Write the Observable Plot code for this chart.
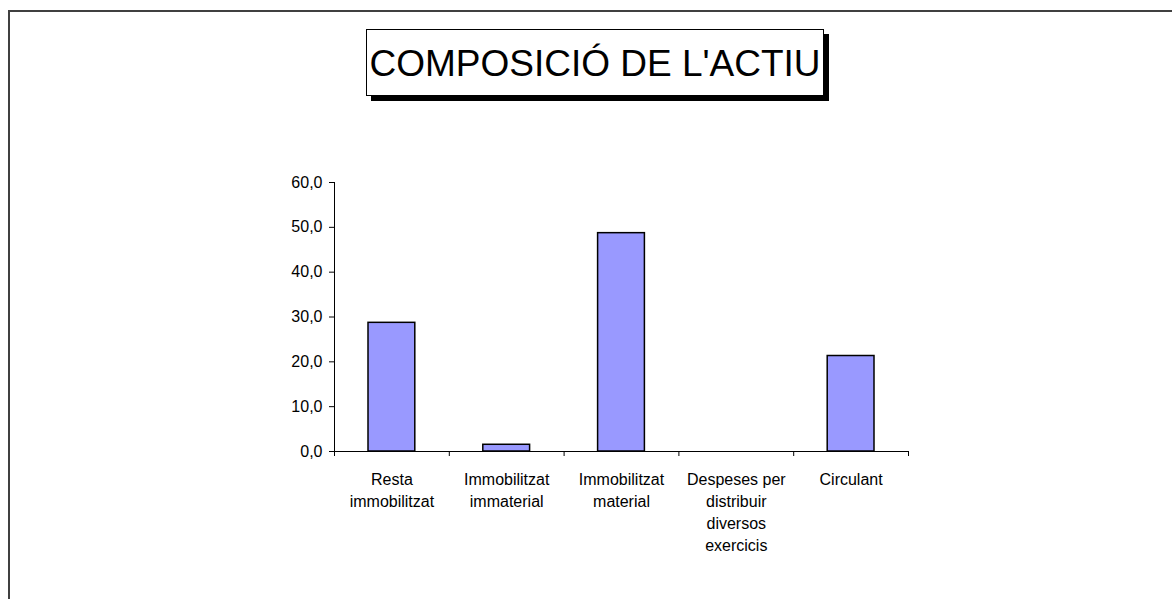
<!DOCTYPE html>
<html>
<head>
<meta charset="utf-8">
<script src="https://cdn.jsdelivr.net/npm/d3@7"></script>
<script src="https://cdn.jsdelivr.net/npm/@observablehq/plot@0.6"></script>
<style>
  html, body { margin: 0; padding: 0; background: #fff; }
  #wrap { position: relative; width: 1172px; height: 599px; overflow: hidden; font-family: "Liberation Sans", Arial, sans-serif; }
  #border { position: absolute; left: 8px; top: 10px; width: 1200px; height: 700px; border-top: 2px solid #404040; border-left: 2px solid #404040; }
  #title { position: absolute; left: 366px; top: 29px; width: 456px; height: 65px; border: 1.5px solid #000; background: #fff;
           box-shadow: 5px 5px 0 #000; font-size: 37px; line-height: 67px; text-align: center; color: #000; white-space: nowrap; z-index: 2; }
  #chart { position: absolute; left: 0; top: 0; }
</style>
</head>
<body>
<div id="wrap">
  <div id="border"></div>
  <div id="title">COMPOSICIÓ DE L'ACTIU</div>
  <div id="chart"></div>
</div>
<script>
const categories = ["Resta immobilitzat", "Immobilitzat immaterial", "Immobilitzat material", "Despeses per distribuir diversos exercicis", "Circulant"];
const tickLabels = ["Resta\nimmobilitzat", "Immobilitzat\nimmaterial", "Immobilitzat\nmaterial", "Despeses per\ndistribuir\ndiversos\nexercicis", "Circulant"];
const values = [28.7, 1.5, 48.7, 0.0, 21.3];
const yTicks = [0, 10, 20, 30, 40, 50, 60];

const n = categories.length;
const data = categories.map((c, i) => ({category: c, index: i, value: values[i]}));

const chart = Plot.plot({
  width: 1172,
  height: 599,
  marginLeft: 334,
  marginRight: 264,
  marginTop: 182,
  marginBottom: 148,
  x: {type: "linear", domain: [0, n]},
  y: {domain: [0, 60]},
  style: {fontFamily: "'Liberation Sans', Arial, sans-serif", fontSize: "16px", color: "#000", background: "transparent", overflow: "visible"},
  marks: [
    Plot.rectY(data.filter(d => d.value > 0), {x1: d => d.index, x2: d => d.index + 1, y: "value", insetLeft: 34, insetRight: 34, fill: "#9999ff", stroke: "#000", strokeWidth: 1.5}),
    Plot.ruleY([0], {stroke: "#000", strokeWidth: 1}),
    Plot.ruleX([0], {stroke: "#000", strokeWidth: 1}),
    Plot.axisY({ticks: yTicks, tickSize: 5, tickPadding: 7, tickFormat: d => d.toFixed(1).replace(".", ","), label: null, fontSize: 16}),
    Plot.axisX(d3.range(0, n + 1), {tickSize: 5, tickFormat: () => "", label: null}),
    Plot.axisX(d3.range(n).map(i => i + 0.5), {tickSize: 0, tickPadding: 18, tickFormat: t => tickLabels[Math.floor(t)], label: null, lineHeight: 1.375, fontSize: 16})
  ]
});
document.getElementById("chart").appendChild(chart);
</script>
</body>
</html>
